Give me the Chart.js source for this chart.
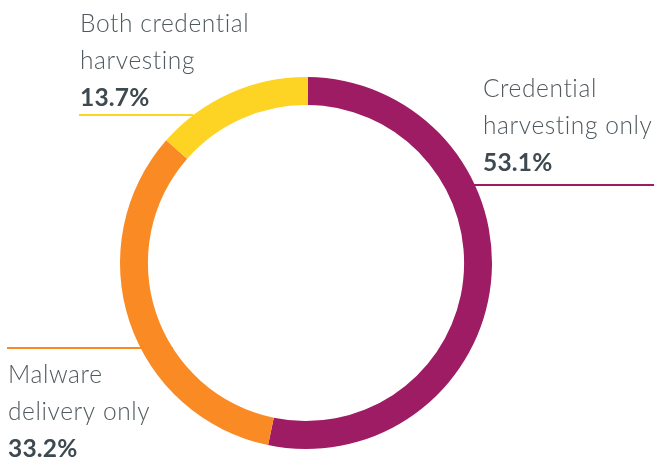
<!DOCTYPE html>
<html>
<head>
<meta charset="utf-8">
<script src="https://cdn.jsdelivr.net/npm/chart.js@4.4.1/dist/chart.umd.min.js"></script>
<style>
html,body{margin:0;padding:0;background:#fff;}
#wrap{width:658px;height:460px;position:relative;}
</style>
</head>
<body>
<div id="wrap"><canvas id="c" width="658" height="460"></canvas></div>
<script>
const categories = ["Credential harvesting only", "Malware delivery only", "Both credential harvesting"];
const values = [53.1, 33.2, 13.7];
const labelLines = [["Credential", "harvesting only"], ["Malware", "delivery only"], ["Both credential", "harvesting"]];
const valueLabels = ["53.1%", "33.2%", "13.7%"];
const colors = ["#9e1c63", "#fa8a23", "#fdd424"];

const textColor = "#50595e";
const boldColor = "#3e4a50";
const FONT = "Lato, 'Open Sans', sans-serif";

const labelPlugin = {
  id: "donutLabels",
  afterDatasetsDraw(chart) {
    const ctx = chart.ctx;
    const arc = chart.getDatasetMeta(0).data[0];
    const cx = arc.x, cy = arc.y, R = arc.outerRadius, r = arc.innerRadius;
    const lh = 37;
    const lineAt = (y, side, edge) => {
      const dy = y - cy;
      const rad = edge === "inner" ? r : R;
      const dx = Math.sqrt(Math.max(0, rad * rad - dy * dy));
      return side === "right" ? cx + dx : cx - dx;
    };
    const specs = [
      { x: cx + 177, y: cy - 166, lineY: cy - 78, x1: () => lineAt(cy - 78, "right", "outer") - 2, x2: 654 },
      { x: 8, y: cy + 120, lineY: cy + 85, x1: () => 7, x2: lineAt(cy + 85, "left", "inner") },
      { x: 80, y: cy - 231, lineY: cy - 148, x1: () => 79, x2: lineAt(cy - 148, "left", "outer") }
    ];
    ctx.save();
    const hasLS = "letterSpacing" in ctx;
    specs.forEach((s, i) => {
      ctx.textAlign = "left";
      ctx.textBaseline = "alphabetic";
      ctx.fillStyle = textColor;
      ctx.font = "300 24.5px " + FONT;
      if (hasLS) ctx.letterSpacing = "0.6px";
      labelLines[i].forEach((t, j) => ctx.fillText(t, s.x, s.y + j * lh));
      ctx.fillStyle = boldColor;
      ctx.font = "700 24.5px " + FONT;
      if (hasLS) ctx.letterSpacing = "0.2px";
      ctx.fillText(valueLabels[i], s.x, s.y + 2 * lh);
      ctx.strokeStyle = colors[i];
      ctx.lineWidth = 2;
      ctx.beginPath();
      ctx.moveTo(s.x1(), s.lineY);
      ctx.lineTo(s.x2, s.lineY);
      ctx.stroke();
    });
    ctx.restore();
  }
};

new Chart(document.getElementById("c"), {
  type: "doughnut",
  data: {
    labels: categories,
    datasets: [{
      data: values,
      backgroundColor: colors,
      borderWidth: 0,
      hoverOffset: 0
    }]
  },
  options: {
    responsive: false,
    animation: false,
    rotation: 0.6,
    cutout: "85%",
    layout: { padding: { top: 77, bottom: 11, left: 100, right: 146 } },
    plugins: { legend: { display: false }, tooltip: { enabled: false } }
  },
  plugins: [labelPlugin]
});
</script>
</body>
</html>
